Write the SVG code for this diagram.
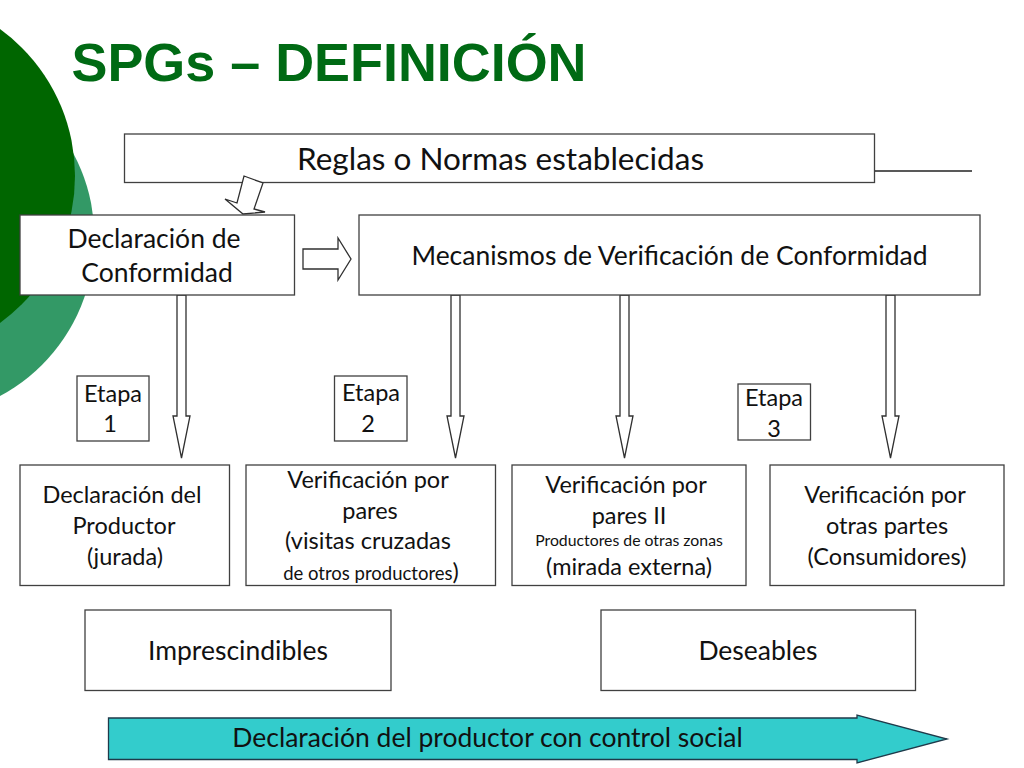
<svg xmlns="http://www.w3.org/2000/svg" width="1024" height="768" viewBox="0 0 1024 768">
<style>
.b{fill:#fff;stroke:#404040;stroke-width:1.3}
.a{fill:#fff;stroke:#303030;stroke-width:1.3;stroke-linejoin:miter}
text{font-family:"Lato","Open Sans","Liberation Sans",sans-serif;fill:#111;text-anchor:middle;font-size:23.500px}
.l{font-size:31.500px}.m{font-size:26.500px}.s{font-size:15.800px}
</style>
<rect width="1024" height="768" fill="#fff"/>
<g id="background">
<circle cx="-85" cy="238" r="179.500" fill="#339966"/>
<circle cx="-106.500" cy="176" r="181.500" fill="#006600"/>
</g>
<text id="title" x="329" y="81" style="font-family:'Liberation Sans',sans-serif;font-weight:bold;font-size:53.900px;fill:#006A14">SPGs – DEFINICIÓN</text>
<g id="reglas"><rect class="b" x="124.500" y="134" width="750" height="48.500"/><text class="l" x="500.500" y="170">Reglas o Normas establecidas</text></g>
<g id="connectors">
<path d="M875 171H972" fill="none" stroke="#222" stroke-width="1.300"/>
<path class="a" d="M244 176L263 183L254 209L265 212L243 214L225 199L237 203Z"/>
<path class="a" d="M303 249H338V238L351 259L338 280V269H303Z"/>
<path class="a" d="M177 295H186V416L190 416L181.500 458L173 416L177 416Z"/>
<path class="a" d="M451 295H460V416L464 416L455.500 458L447 416L451 416Z"/>
<path class="a" d="M620 295H629V416L633 416L624.500 458L616 416L620 416Z"/>
<path class="a" d="M886 295H895V416L899 416L890.500 458L882 416L886 416Z"/>
</g>
<g id="declaracion-conformidad"><rect class="b" x="20" y="215" width="274.500" height="80"/><text class="m" x="154" y="248">Declaración de</text><text class="m" x="157" y="282">Conformidad</text></g>
<g id="mecanismos"><rect class="b" x="359" y="215" width="621" height="80"/><text class="m" x="669.500" y="265">Mecanismos de Verificación de Conformidad</text></g>
<g id="etapa1"><rect class="b" x="77" y="376" width="72" height="65"/><text x="113" y="402">Etapa</text><text x="110" y="432">1</text></g>
<g id="etapa2"><rect class="b" x="334.500" y="376" width="72.500" height="65"/><text x="371" y="401">Etapa</text><text x="368" y="432">2</text></g>
<g id="etapa3"><rect class="b" x="738" y="384" width="72.500" height="56"/><text x="774" y="406">Etapa</text><text x="774" y="437">3</text></g>
<g id="declaracion-productor"><rect class="b" x="20" y="465" width="209.500" height="120.500"/><text x="122" y="503">Declaración del</text><text x="124" y="534">Productor</text><text x="125" y="565">(jurada)</text></g>
<g id="verificacion-pares"><rect class="b" x="246" y="465" width="249.500" height="120.500"/><text x="368" y="488">Verificación por</text><text x="370" y="519">pares</text><text x="368" y="549">(visitas cruzadas</text><text x="371" y="580"><tspan font-size="18.500">de otros productores</tspan>)</text></g>
<g id="verificacion-pares-2"><rect class="b" x="512" y="465" width="234" height="120.500"/><text x="626" y="493">Verificación por</text><text x="629" y="524">pares II</text><text class="s" x="629" y="546">Productores de otras zonas</text><text x="629" y="575">(mirada externa)</text></g>
<g id="verificacion-otras"><rect class="b" x="770" y="465" width="234" height="120.500"/><text x="885" y="503">Verificación por</text><text x="887" y="534">otras partes</text><text x="887" y="565">(Consumidores)</text></g>
<g id="imprescindibles"><rect class="b" x="85" y="610" width="306" height="80.500"/><text class="m" x="238" y="660">Imprescindibles</text></g>
<g id="deseables"><rect class="b" x="601" y="610" width="314.500" height="80.500"/><text class="m" x="758" y="660">Deseables</text></g>
<g id="control-social"><path d="M108.500 718H857V715L947 739L857 763V759.500H108.500Z" fill="#33CCCC" stroke="#1f3a4a" stroke-width="1.300"/><text class="m" x="487.500" y="747">Declaración del productor con control social</text></g>
</svg>
